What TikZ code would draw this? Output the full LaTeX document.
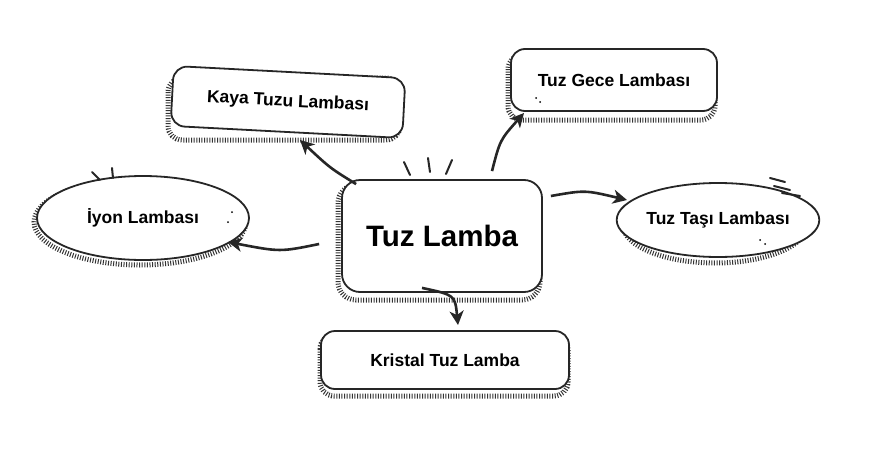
\documentclass[tikz,border=0pt]{standalone}
\usepackage{fontspec}
\setmainfont{Liberation Sans}
\usetikzlibrary{arrows.meta,shapes.geometric}
\begin{document}
\begin{tikzpicture}[x=1pt,y=-1pt,
  box/.style={draw=black!85,line width=1.8pt,rounded corners=14pt,fill=white,font=\bfseries\fontsize{17.5}{20}\selectfont,inner sep=0pt},
  ell/.style={draw=black!85,line width=1.8pt,ellipse,fill=white,font=\bfseries\fontsize{17.5}{20}\selectfont,inner sep=0pt},
  hatch/.style={draw=black!80,line width=5pt,dash pattern=on 1pt off 1.6pt},
  arr/.style={line width=2.6pt,black!85,-{Stealth[length=14pt,width=14pt,inset=4pt]}},
  tick/.style={line width=2pt,black!85,line cap=round}]
\useasboundingbox (0,0) rectangle (870,450);
% shadows
\draw[hatch,rounded corners=18pt] (338,185) rectangle (540,300);
\draw[hatch,rounded corners=14pt] (168,78) rectangle (400,140);
\draw[hatch,rounded corners=14pt] (508,55) rectangle (715,120);
\draw[hatch,rounded corners=14pt] (320,335) rectangle (568,396);
\draw[hatch] (140,222) ellipse [x radius=106, y radius=43];
\draw[hatch] (715,225) ellipse [x radius=92, y radius=38];
% nodes
\node[box,rounded corners=18pt,minimum width=200pt,minimum height=112pt,font=\bfseries\fontsize{29.5}{34}\selectfont] (c) at (442,236) {Tuz Lamba};
\node[box,minimum width=232pt,minimum height=60pt,rotate=-3] (k) at (288,102) {Kaya Tuzu Lambası};
\node[box,minimum width=206pt,minimum height=62pt] (g) at (614,80) {Tuz Gece Lambası};
\node[box,minimum width=248pt,minimum height=58pt] (kr) at (445,360) {Kristal Tuz Lamba};
\node[ell,minimum width=212pt,minimum height=84pt] (i) at (143,218) {İyon Lambası};
\node[ell,minimum width=182pt,minimum height=74pt] (t) at (718,220) {Tuz Taşı Lambası};
% dots
\foreach \x/\y in {228/222,232/212,536/98,540/102,760/240,765/244}{\fill (\x,\y) circle (1pt);}
% arrows
\draw[arr] (c.north west) ++(15,5) coordinate (a1) .. controls (330,168) .. (300,140);
\draw[arr] (c.north) ++(50,-8) coordinate (a2) .. controls (500,140) .. (524,113);
\draw[arr] (c.west) ++(-22,8) coordinate (a3) .. controls (280,252) .. (228,242);
\draw[arr] (c.east) ++(8,-40) coordinate (a4) .. controls (585,190) .. (627,200);
\draw[arr] (c.south) ++(-20,-5) coordinate (a5) .. controls (455,295) .. (458,325);
% ticks
\draw[tick] (404,162)--(410,175); \draw[tick] (428,158)--(430,172); \draw[tick] (452,160)--(446,174);
\draw[tick] (92,172)--(100,180); \draw[tick] (112,168)--(113,178);
\draw[tick] (770,178)--(785,182); \draw[tick] (774,186)--(790,190); \draw[tick] (782,193)--(800,196);
\end{tikzpicture}
\end{document}
